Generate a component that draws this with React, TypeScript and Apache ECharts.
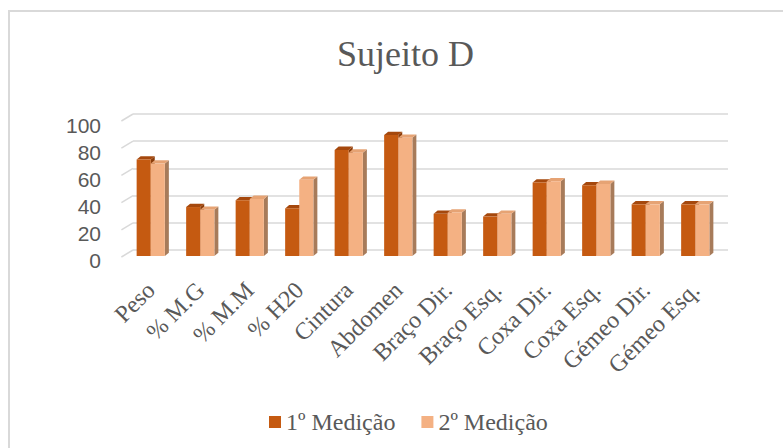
import React, { useEffect, useRef } from "react";
import * as echarts from "echarts";

const categories = ["Peso", "% M.G", "% M.M", "% H20", "Cintura", "Abdomen", "Braço Dir.", "Braço Esq.", "Coxa Dir.", "Coxa Esq.", "Gémeo Dir.", "Gémeo Esq."];
const medicao1 = [71, 36, 41, 35, 78, 89, 31, 29, 54, 52, 38, 38];
const medicao2 = [68, 34, 42, 56, 76, 87, 32, 31, 55, 53, 38, 38];
const yTicks = [0, 20, 40, 60, 80, 100];
const seriesNames = ["1º Medição", "2º Medição"];

const palette = [
  { front: "#C55A11", top: "#A5480D", side: "#8A3C0A" },
  { front: "#F4B183", top: "#E6A374", side: "#A77B5A" },
];

const SERIF = "Liberation Serif";
const SANS = "Liberation Sans";

function makeBarRender(idx: number) {
  return (params: any, api: any) => {
    const i = api.value(0);
    const v = api.value(1);
    const [cx, yTop] = api.coord([i, v]);
    const [, yBot] = api.coord([i, 0]);
    const band = api.size([1, 0])[0];
    const w = band * 0.285;
    const x0 = idx === 0 ? cx - w : cx;
    const x1 = x0 + w;
    const dx = 4;
    const dy = -3.3;
    const c = palette[idx];
    return {
      type: "group",
      children: [
        {
          type: "polygon",
          shape: { points: [[x1, yTop], [x1 + dx, yTop + dy], [x1 + dx, yBot + dy], [x1, yBot]] },
          style: { fill: c.side },
        },
        {
          type: "polygon",
          shape: { points: [[x0, yTop], [x0 + dx, yTop + dy], [x1 + dx, yTop + dy], [x1, yTop]] },
          style: { fill: c.top },
        },
        {
          type: "rect",
          shape: { x: x0, y: yTop, width: w, height: yBot - yTop },
          style: { fill: c.front },
        },
      ],
    };
  };
}

export default function App() {
  const ref = useRef<HTMLDivElement>(null);
  useEffect(() => {
    if (!ref.current) return;
    const chart = echarts.init(ref.current, undefined, { renderer: "svg" });
    const option: any = {
      animation: false,
      backgroundColor: "#ffffff",
      textStyle: { fontFamily: SERIF },
      title: {
        text: "Sujeito D",
        left: 332,
        top: 31,
        textStyle: { fontFamily: SERIF, fontSize: 36, fontWeight: "normal", color: "#595959" },
      },
      legend: {
        data: seriesNames,
        left: 264,
        top: 405,
        icon: "rect",
        itemWidth: 12,
        itemHeight: 12,
        itemGap: 26,
        textStyle: { fontFamily: SERIF, fontSize: 24, color: "#595959" },
      },
      graphic: [
        {
          type: "rect",
          shape: { x: 9, y: 11, width: 2000, height: 2000 },
          style: { fill: "none", stroke: "#d9d9d9", lineWidth: 2 },
          silent: true,
        },
      ],
      grid: [
        { left: 126, right: 63, top: 120, bottom: 192 },
        { left: 133, right: 55, top: 114, bottom: 198 },
        { left: 126, right: 63, top: 125, bottom: 188 },
      ],
      xAxis: [
        {
          type: "category",
          gridIndex: 0,
          data: categories,
          axisLine: { show: false },
          axisTick: { show: false },
          axisLabel: {
            interval: 0,
            rotate: 45,
            margin: 30,
            fontFamily: SERIF,
            fontSize: 24,
            color: "#595959",
          },
        },
        { type: "category", gridIndex: 1, data: categories, show: false },
        { type: "category", gridIndex: 2, data: categories, show: false },
      ],
      yAxis: [
        {
          type: "value",
          gridIndex: 0,
          min: 0,
          max: 100,
          interval: 20,
          show: false,
        },
        {
          type: "value",
          gridIndex: 1,
          min: 0,
          max: 100,
          interval: 20,
          axisLine: { show: false },
          axisTick: { show: false },
          axisLabel: { show: false },
          splitLine: { show: true, lineStyle: { color: "#d9d9d9", width: 1.5 } },
        },
        {
          type: "value",
          gridIndex: 2,
          min: 0,
          max: 100,
          interval: 20,
          axisLine: { show: false },
          axisTick: { show: false },
          splitLine: { show: false },
          axisLabel: {
            margin: 25,
            fontFamily: SANS,
            fontSize: 21,
            color: "#595959",
          },
        },
      ],
      series: [
        {
          type: "custom",
          name: "diag",
          xAxisIndex: 1,
          yAxisIndex: 1,
          silent: true,
          data: yTicks.map((t) => [0, t]),
          renderItem: (params: any, api: any) => {
            const [, y] = api.coord([0, api.value(1)]);
            const x = params.coordSys.x;
            return {
              type: "line",
              shape: { x1: x - 11.6, y1: y + 7, x2: x, y2: y },
              style: { stroke: "#d9d9d9", lineWidth: 1.5 },
            };
          },
          z: 1,
        },
        {
          type: "custom",
          name: seriesNames[0],
          xAxisIndex: 0,
          yAxisIndex: 0,
          itemStyle: { color: palette[0].front },
          data: medicao1.map((v, i) => [i, v]),
          renderItem: makeBarRender(0),
          z: 2,
        },
        {
          type: "custom",
          name: seriesNames[1],
          xAxisIndex: 0,
          yAxisIndex: 0,
          itemStyle: { color: palette[1].front },
          data: medicao2.map((v, i) => [i, v]),
          renderItem: makeBarRender(1),
          z: 3,
        },
      ],
    };
    chart.setOption(option);
    return () => chart.dispose();
  }, []);
  return (
    <div
      ref={ref}
      style={{ position: "fixed", left: 0, top: 0, width: 783, height: 448 }}
    />
  );
}
